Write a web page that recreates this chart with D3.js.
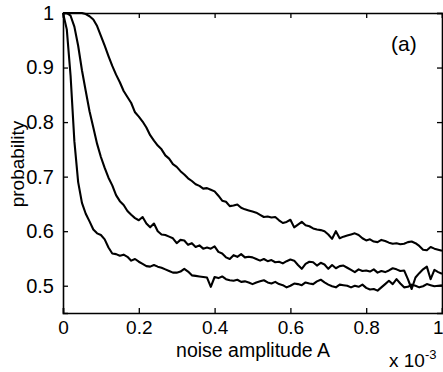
<!DOCTYPE html>
<html>
<head>
<meta charset="utf-8">
<script src="https://cdn.jsdelivr.net/npm/d3@7"></script>
<style>
  body { margin: 0; background: #fff; }
  svg text { font-family: "Liberation Sans", Arial, Helvetica, sans-serif; fill: #000; }
</style>
</head>
<body>
<div id="chart"></div>
<script>
// noise amplitude in units of 1e-3, step 0.01
var amplitude = d3.range(0, 101).map(function(i) { return i / 100; });

var probHigh = [1, 1, 1, 1, 1, 1, 0.998, 0.994, 0.988, 0.976,
  0.958, 0.940, 0.921, 0.903, 0.887, 0.873, 0.857, 0.846, 0.835, 0.818,
  0.810, 0.801, 0.790, 0.776, 0.766, 0.757, 0.750, 0.739, 0.733, 0.723,
  0.718, 0.710, 0.704, 0.697, 0.692, 0.686, 0.683, 0.678, 0.679, 0.676,
  0.673, 0.665, 0.656, 0.654, 0.646, 0.647, 0.649, 0.643, 0.640, 0.638,
  0.636, 0.634, 0.630, 0.626, 0.627, 0.625, 0.626, 0.620, 0.615, 0.617,
  0.621, 0.607, 0.612, 0.617, 0.611, 0.609, 0.605, 0.603, 0.602, 0.600,
  0.594, 0.586, 0.600, 0.587, 0.590, 0.592, 0.594, 0.596, 0.593, 0.587,
  0.583, 0.585, 0.581, 0.580, 0.584, 0.582, 0.579, 0.577, 0.578, 0.576,
  0.577, 0.580, 0.581, 0.578, 0.573, 0.566, 0.565, 0.571, 0.568, 0.566,
  0.564];

var probMid = [1, 1, 0.995, 0.975, 0.940, 0.895, 0.857, 0.820, 0.790, 0.760,
  0.736, 0.716, 0.698, 0.684, 0.666, 0.655, 0.648, 0.637, 0.630, 0.624,
  0.620, 0.626, 0.614, 0.607, 0.614, 0.600, 0.594, 0.593, 0.590, 0.587,
  0.578, 0.584, 0.583, 0.575, 0.578, 0.571, 0.574, 0.568, 0.570, 0.568,
  0.572, 0.562, 0.559, 0.552, 0.549, 0.556, 0.553, 0.558, 0.552, 0.553,
  0.552, 0.549, 0.546, 0.549, 0.545, 0.547, 0.543, 0.544, 0.541, 0.545,
  0.548, 0.546, 0.538, 0.531, 0.540, 0.544, 0.543, 0.537, 0.542, 0.539,
  0.531, 0.538, 0.532, 0.536, 0.537, 0.533, 0.529, 0.525, 0.530, 0.527,
  0.528, 0.526, 0.530, 0.524, 0.527, 0.525, 0.528, 0.532, 0.530, 0.527,
  0.528, 0.512, 0.494, 0.515, 0.523, 0.530, 0.535, 0.512, 0.529, 0.525,
  0.522];

var probLow = [1, 0.970, 0.885, 0.765, 0.690, 0.652, 0.632, 0.618, 0.603, 0.596,
  0.593, 0.585, 0.570, 0.559, 0.558, 0.555, 0.557, 0.553, 0.546, 0.549,
  0.544, 0.540, 0.536, 0.535, 0.538, 0.535, 0.533, 0.530, 0.527, 0.524,
  0.524, 0.526, 0.531, 0.526, 0.519, 0.518, 0.517, 0.516, 0.515, 0.498,
  0.516, 0.514, 0.517, 0.512, 0.510, 0.509, 0.511, 0.507, 0.508, 0.506,
  0.503, 0.506, 0.508, 0.510, 0.506, 0.504, 0.507, 0.503, 0.501, 0.497,
  0.500, 0.504, 0.503, 0.501, 0.506, 0.504, 0.503, 0.508, 0.511, 0.506,
  0.502, 0.499, 0.497, 0.502, 0.501, 0.500, 0.497, 0.500, 0.498, 0.502,
  0.496, 0.493, 0.494, 0.491, 0.497, 0.503, 0.509, 0.503, 0.512, 0.504,
  0.497, 0.498, 0.502, 0.500, 0.497, 0.499, 0.503, 0.501, 0.499, 0.500,
  0.501];

var series = [probHigh, probMid, probLow];
var xTicks = [0, 0.2, 0.4, 0.6, 0.8, 1];
var yTicks = [0.5, 0.6, 0.7, 0.8, 0.9, 1];

var width = 443, height = 372;
var margin = {left: 63, top: 13, right: 1, bottom: 59};

var svg = d3.select("#chart")
            .append("svg")
            .attr("width", width)
            .attr("height", height);

var x = d3.scaleLinear()
          .domain([0, 1])
          .range([margin.left, width - margin.right]);
var y = d3.scaleLinear()
          .domain([0.45, 1])
          .range([height - margin.bottom, margin.top]);

var line = d3.line()
             .x(function(d, i) { return x(amplitude[i]); })
             .y(function(d) { return y(d); });

// curves first, box on top like matlab
svg.selectAll(".curve")
   .data(series)
   .enter()
   .append("path")
   .attr("class", "curve")
   .attr("d", line)
   .attr("fill", "none")
   .attr("stroke", "#000")
   .attr("stroke-width", 2.1)
   .attr("stroke-linejoin", "round");

var tickLen = 5;

// bottom / top axes with inward ticks
var xBottom = svg.append("g")
                 .attr("transform", `translate(0, ${y(0.45)})`)
                 .call(d3.axisBottom(x).tickValues(xTicks).tickSize(-tickLen).tickPadding(8)
                        .tickFormat(function(d) { return d === 0 || d === 1 ? d3.format("d")(d) : d3.format(".1f")(d); }));
svg.append("g")
   .attr("transform", `translate(0, ${y(1)})`)
   .call(d3.axisTop(x).tickValues(xTicks).tickSize(-tickLen).tickFormat(""));

// left / right axes
var yLeft = svg.append("g")
               .attr("transform", `translate(${x(0)}, 0)`)
               .call(d3.axisLeft(y).tickValues(yTicks).tickSize(-tickLen).tickPadding(9)
                      .tickFormat(function(d) { return d === 1 ? "1" : d3.format(".1f")(d); }));
svg.append("g")
   .attr("transform", `translate(${x(1)}, 0)`)
   .call(d3.axisRight(y).tickValues(yTicks).tickSize(-tickLen).tickFormat(""));

svg.selectAll(".domain")
   .attr("stroke", "#000")
   .attr("stroke-width", 1.6);
svg.selectAll(".tick line")
   .attr("stroke", "#000")
   .attr("stroke-width", 1.3);
svg.selectAll(".tick text")
   .style("font-size", "20px")
   .style("font-family", "'Liberation Sans', Arial, sans-serif")
   .attr("fill", "#000");
xBottom.selectAll(".tick text")
       .style("font-size", "19px");

// the last x label sits right on the window edge, keep it inside
xBottom.selectAll(".tick text")
       .filter(function(d) { return d === 1; })
       .attr("text-anchor", "end")
       .attr("x", 1);

// axis labels
svg.append("text")
   .attr("x", 253)
   .attr("y", 357)
   .attr("text-anchor", "middle")
   .style("font-size", "19.5px")
   .text("noise amplitude A");

svg.append("text")
   .attr("transform", "translate(24, 164) rotate(-90)")
   .attr("text-anchor", "middle")
   .style("font-size", "19px")
   .text("probability");

// exponent note under the axis
var expo = svg.append("text")
              .attr("x", 389)
              .attr("y", 367)
              .style("font-size", "19px");
expo.append("tspan").text("x 10");
expo.append("tspan")
    .attr("dy", -8)
    .style("font-size", "13px")
    .text("-3");

svg.append("text")
   .attr("x", 391)
   .attr("y", 51)
   .style("font-size", "21px")
   .text("(a)");
</script>
</body>
</html>
